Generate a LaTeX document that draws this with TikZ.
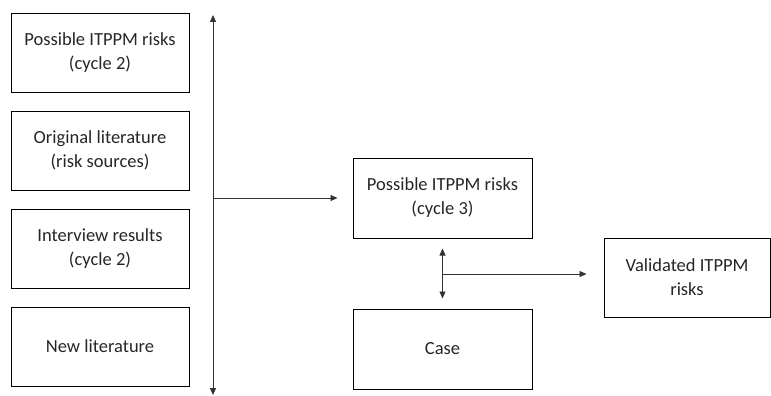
\documentclass[tikz,border=0pt]{standalone}
\usepackage{fontspec}
\setmainfont{Carlito}
\usetikzlibrary{arrows.meta}
\begin{document}
\begin{tikzpicture}[x=1pt,y=-1pt,
  box/.style={draw=black,line width=1pt,minimum width=#1,minimum height=79pt,inner sep=0pt,align=center,
    font=\fontsize{18.5}{24}\selectfont,text=black!85},
  box/.default=178pt,
  conn/.style={line width=0.8pt,draw=black!80},
  tip/.style={-{Triangle[length=7pt,width=6pt]}},
  tips/.style={{Triangle[length=7pt,width=6pt]}-{Triangle[length=7pt,width=6pt]}}]
\useasboundingbox (0,0) rectangle (771,396);
\node[box] (b1) at (100,53) {Possible ITPPM risks\\(cycle 2)};
\node[box] (b2) at (100,150.5) {Original literature\\(risk sources)};
\node[box] (b3) at (100,249) {Interview results\\(cycle 2)};
\node[box] (b4) at (100,346.5) {New literature};
\node[box=179pt,minimum height=80pt] (mid) at (442.5,198) {Possible ITPPM risks\\(cycle 3)};
\node[box=179pt,minimum height=80pt] (case) at (442.5,349) {Case};
\node[box=166pt] (val) at (687,277.5) {Validated ITPPM\\risks};
\coordinate (vt) at (213,15);
\coordinate (vb) at (213,395);
\coordinate (vm) at (213,198);
\draw[conn,tips] (vb) -- (vt);
\draw[conn,tip] (vm) -- ([xshift=-15pt]mid.west);
\draw[conn,tips] ([yshift=-10pt]mid.south) -- ([yshift=10pt]case.north);
\coordinate (jm) at (442.5,274);
\coordinate (vw) at ([xshift=-17pt]val.west);
\draw[conn,tip] (jm) -- (jm -| vw);
\end{tikzpicture}
\end{document}
